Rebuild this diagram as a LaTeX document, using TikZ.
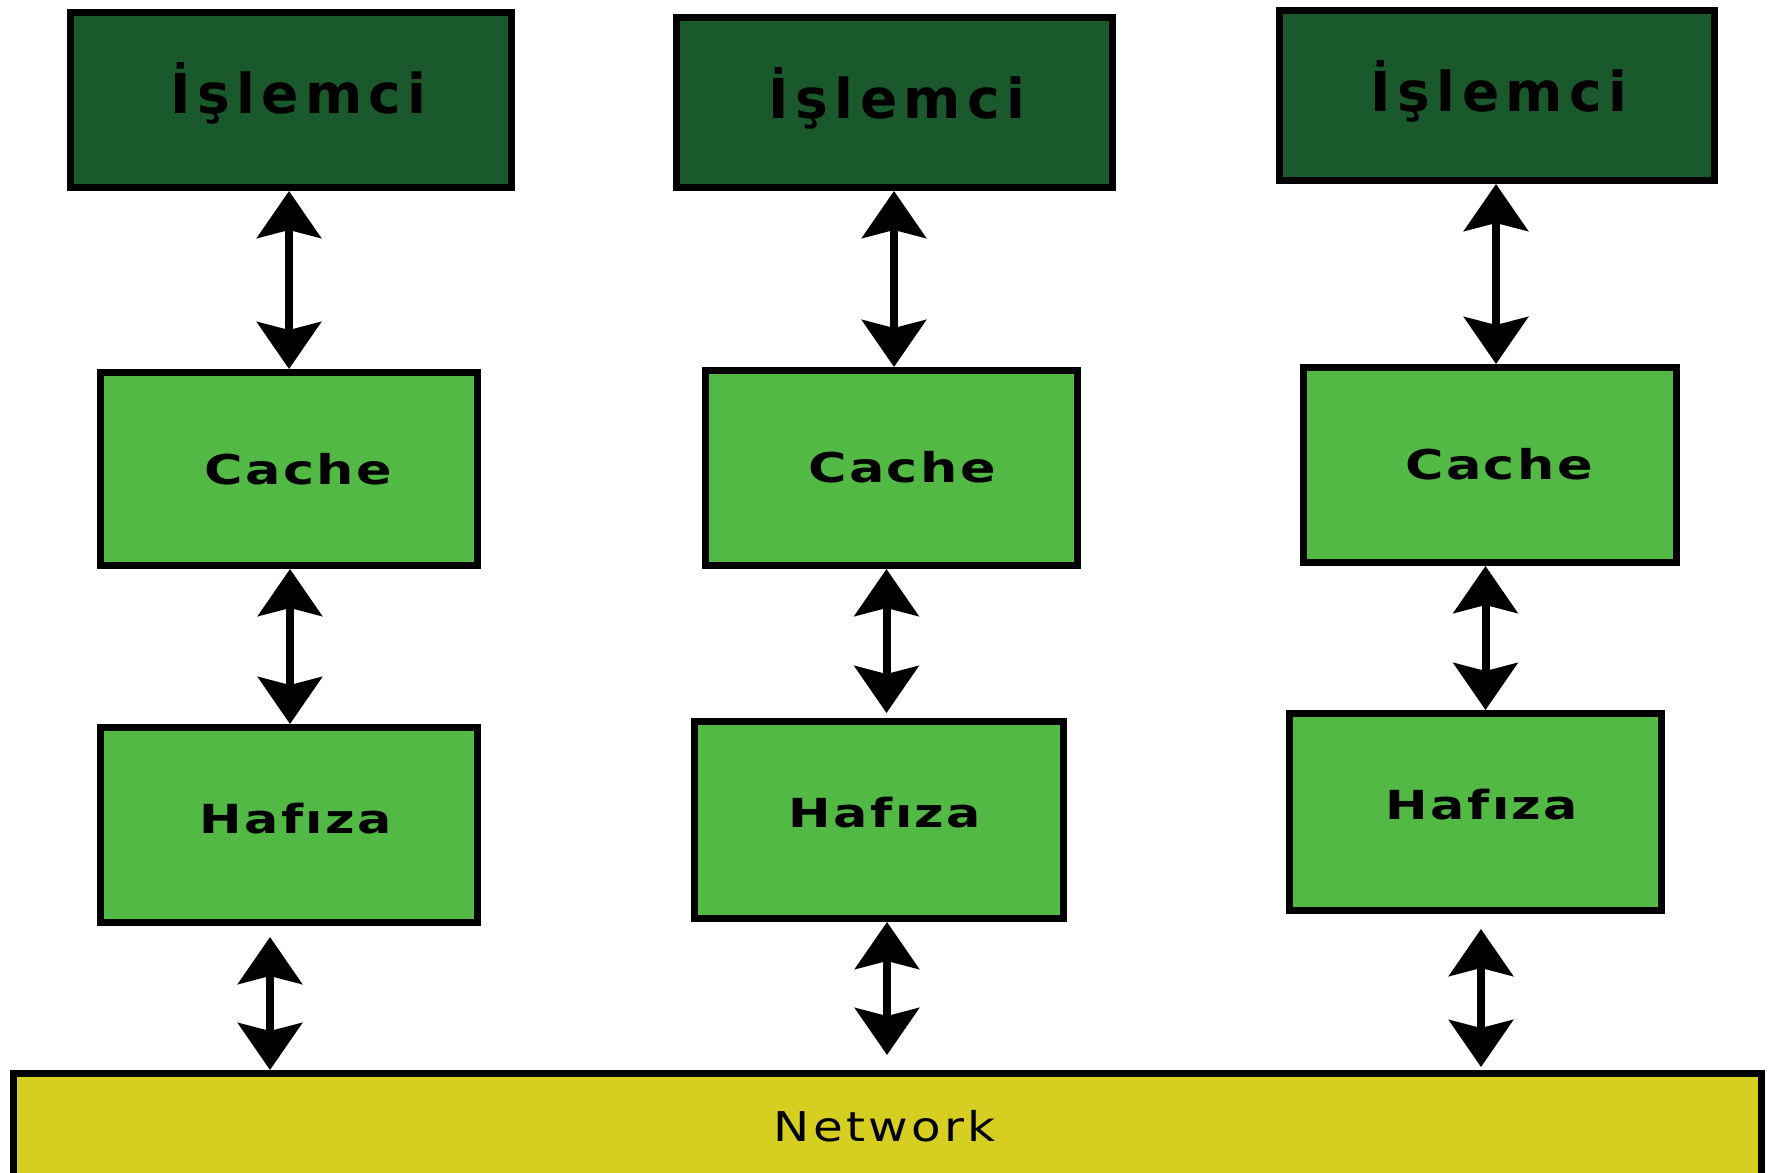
\documentclass[tikz,border=0pt]{standalone}
\usepackage{fontspec}
\usetikzlibrary{arrows.meta}
\newfontfamily\fProc{DejaVu Sans}[LetterSpace=11.5]
\newfontfamily\fCache{DejaVu Sans}[FakeStretch=1.28, LetterSpace=6]
\newfontfamily\fMem{DejaVu Sans}[FakeStretch=1.27, LetterSpace=6]
\newfontfamily\fNet{DejaVu Sans}[FakeStretch=1.18, LetterSpace=8]
\definecolor{dkgreen}{RGB}{26,89,44}
\definecolor{ltgreen}{RGB}{82,185,69}
\definecolor{netyellow}{RGB}{214,206,32}
\tikzset{
  box/.style={draw=black, line width=7pt, inner sep=0pt, outer sep=3.5pt, anchor=north west},
  procbox/.style={box, fill=dkgreen},
  membox/.style={box, fill=ltgreen},
  netbox/.style={box, fill=netyellow},
  proctext/.style={anchor=base, inner sep=0pt, font=\fProc\bfseries\fontsize{55}{60}\selectfont},
  cachetext/.style={anchor=base, inner sep=0pt, font=\fCache\bfseries\fontsize{41}{46}\selectfont},
  memtext/.style={anchor=base, inner sep=0pt, font=\fMem\bfseries\fontsize{40}{45}\selectfont},
  nettext/.style={anchor=base, inner sep=0pt, font=\fNet\fontsize{41}{46}\selectfont},
  dbl/.style={line width=8pt, {Stealth[length=47pt,width=64pt,inset=8pt]}-{Stealth[length=47pt,width=64pt,inset=8pt]}}
}
\begin{document}
\begin{tikzpicture}[x=1pt,y=-1pt]
\useasboundingbox (0,0) rectangle (1774,1172);
\clip (0,0) rectangle (1774,1172);
\fill[white] (0,0) rectangle (1774,1172);
% column 1
\node[procbox, minimum width=441pt, minimum height=175pt] (P1) at (67,9) {};
\node[membox, minimum width=377pt, minimum height=193pt] (C1) at (97,369) {};
\node[membox, minimum width=377pt, minimum height=195pt] (H1) at (97,724) {};
% column 2
\node[procbox, minimum width=436pt, minimum height=170pt] (P2) at (673,14) {};
\node[membox, minimum width=372pt, minimum height=195pt] (C2) at (702,367) {};
\node[membox, minimum width=369pt, minimum height=197pt] (H2) at (691,718) {};
% column 3
\node[procbox, minimum width=435pt, minimum height=170pt] (P3) at (1276,7) {};
\node[membox, minimum width=373pt, minimum height=195pt] (C3) at (1300,364) {};
\node[membox, minimum width=372pt, minimum height=197pt] (H3) at (1286,710) {};
% network
\node[netbox, minimum width=1748pt, minimum height=140pt] (N) at (10,1070) {};
% texts
\node[proctext] (P1t) at (298.5,113) {İşlemci};
\node[proctext] (P2t) at (897,118) {İşlemci};
\node[proctext] (P3t) at (1499,111) {İşlemci};
\node[cachetext] (C1t) at (298.5,484) {Cache};
\node[cachetext] (C2t) at (902,482) {Cache};
\node[cachetext] (C3t) at (1499,479) {Cache};
\node[memtext] (H1t) at (296,833) {Hafıza};
\node[memtext] (H2t) at (885,827) {Hafıza};
\node[memtext] (H3t) at (1482,819) {Hafıza};
\node[nettext] (Nt) at (884.5,1141) {Network};
% arrow columns
\coordinate (a11) at (289,0);
\coordinate (a12) at (290,0);
\coordinate (a13) at (270,0);
\coordinate (a21) at (894,0);
\coordinate (a22) at (886.5,0);
\coordinate (a23) at (887,0);
\coordinate (a31) at (1496,0);
\coordinate (a32) at (1485.5,0);
\coordinate (a33) at (1481,0);
% arrows
\draw[dbl] (P1.south -| a11) -- (C1.north -| a11);
\draw[dbl] (C1.south -| a12) -- (H1.north -| a12);
\draw[dbl] ([yshift=-11pt]H1.south -| a13) -- (N.north -| a13);
\draw[dbl] (P2.south -| a21) -- (C2.north -| a21);
\draw[dbl] (C2.south -| a22) -- ([yshift=5pt]H2.north -| a22);
\draw[dbl] (H2.south -| a23) -- ([yshift=15pt]N.north -| a23);
\draw[dbl] (P3.south -| a31) -- (C3.north -| a31);
\draw[dbl] (C3.south -| a32) -- (H3.north -| a32);
\draw[dbl] ([yshift=-15pt]H3.south -| a33) -- ([yshift=3pt]N.north -| a33);
\end{tikzpicture}
\end{document}
